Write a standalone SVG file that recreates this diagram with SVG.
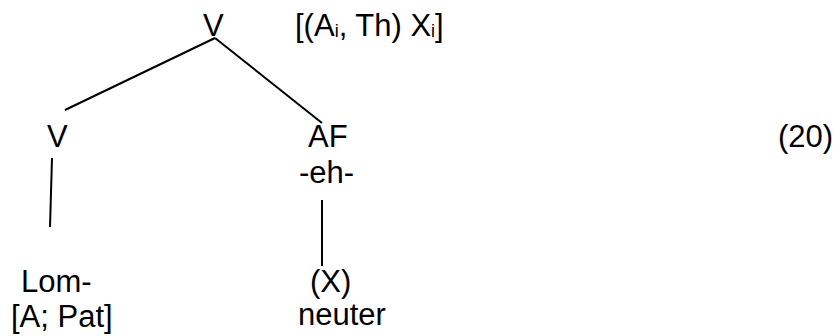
<svg xmlns="http://www.w3.org/2000/svg" width="840" height="336" viewBox="0 0 840 336">
<style>
text{font-family:"Liberation Sans",Arial,sans-serif;font-size:31px;fill:#000}
.sub{font-size:18px}
.edge{stroke:#000;stroke-width:2;fill:none;stroke-linecap:butt}
</style>
<rect width="840" height="336" fill="#fff"/>
<g id="connectors">
<line class="edge" x1="215" y1="38" x2="65" y2="110"/>
<line class="edge" x1="215" y1="38" x2="322" y2="123"/>
<line class="edge" x1="52" y1="158" x2="50" y2="227"/>
<line class="edge" x1="322" y1="200" x2="322" y2="266"/>
</g>
<g id="node-root"><text x="203" y="36">V</text></g>
<g id="node-features"><text x="295" y="36">[(A<tspan class="sub" dy="1">i</tspan><tspan dy="-1">, Th) X</tspan><tspan class="sub" dy="1">i</tspan><tspan dy="-1">]</tspan></text></g>
<g id="node-v"><text x="47" y="147">V</text></g>
<g id="node-af"><text x="308" y="147">AF</text><text x="299" y="183">-eh-</text></g>
<g id="node-lom"><text x="21" y="292">Lom-</text><text x="11" y="327">[A; Pat]</text></g>
<g id="node-x"><text x="310" y="292">(X)</text><text x="298" y="325">neuter</text></g>
<g id="label-20"><text x="778" y="147">(20)</text></g>
</svg>
